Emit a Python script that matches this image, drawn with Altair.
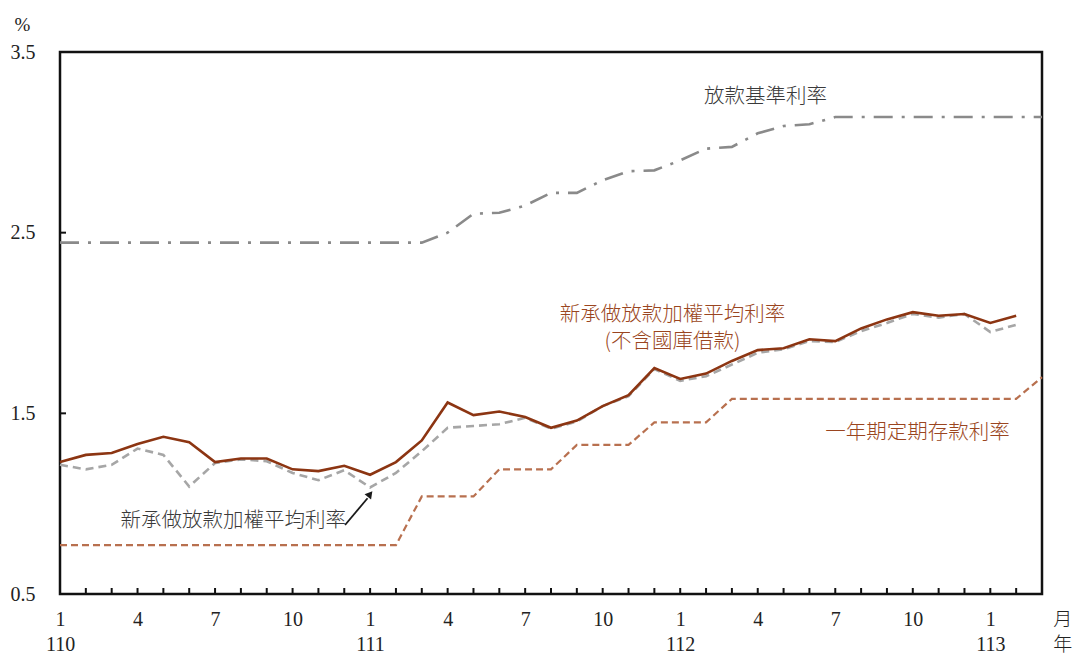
import altair as alt
import pandas as pd

# 新承做放款加權平均利率(不含國庫借款), monthly from 110/1 to 113/2
red_rate = [1.23, 1.27, 1.28, 1.33, 1.37, 1.34, 1.23, 1.25, 1.25, 1.19, 1.18, 1.21,
            1.16, 1.23, 1.35, 1.56, 1.49, 1.51, 1.48, 1.42, 1.46, 1.54, 1.60, 1.75,
            1.69, 1.72, 1.79, 1.85, 1.86, 1.91, 1.90, 1.97, 2.02, 2.06, 2.04, 2.05,
            2.00, 2.04]
# 新承做放款加權平均利率
grey_rate = [1.215, 1.19, 1.215, 1.305, 1.27, 1.095, 1.225, 1.245, 1.235, 1.17, 1.13, 1.185,
             1.09, 1.17, 1.29, 1.42, 1.43, 1.44, 1.475, 1.415, 1.455, 1.54, 1.595, 1.745,
             1.68, 1.705, 1.77, 1.835, 1.855, 1.90, 1.895, 1.955, 2.00, 2.05, 2.03, 2.05,
             1.95, 1.99]
# 放款基準利率, 110/1 to 113/3
base_rate = [2.445, 2.445, 2.445, 2.445, 2.445, 2.445, 2.445, 2.445, 2.445, 2.445, 2.445, 2.445,
             2.445, 2.445, 2.445, 2.50, 2.605, 2.61, 2.65, 2.72, 2.72, 2.79, 2.84, 2.845,
             2.90, 2.965, 2.975, 3.05, 3.09, 3.10, 3.14, 3.14, 3.14, 3.14, 3.14, 3.14,
             3.14, 3.14, 3.14]
# 一年期定期存款利率, 110/1 to 113/3
deposit_rate = [0.77, 0.77, 0.77, 0.77, 0.77, 0.77, 0.77, 0.77, 0.77, 0.77, 0.77, 0.77,
                0.77, 0.77, 1.04, 1.04, 1.04, 1.19, 1.19, 1.19, 1.325, 1.325, 1.325, 1.45,
                1.45, 1.45, 1.58, 1.58, 1.58, 1.58, 1.58, 1.58, 1.58, 1.58, 1.58, 1.58,
                1.58, 1.58, 1.70]

first_year = 110
y_tick_labels = [0.5, 1.5, 2.5, 3.5]
inner_y_ticks = [1.5, 2.5]
month_ticks = list(range(1, 38))


def frame(vals):
    return pd.DataFrame({"idx": list(range(len(vals))), "rate": vals})


SERIF = "Liberation Serif"
CJK = "Noto Sans CJK TC"
BROWN_TEXT = "#9A4520"
DARK_TEXT = "#3a3a3a"

x_scale = alt.Scale(domain=[0, 38], nice=False, zero=False)
y_scale = alt.Scale(domain=[0.5, 3.5], nice=False, zero=False)

label_expr = (
    f"datum.value % 12 == 0 ? ['' + (datum.value % 12 + 1), '' + ({first_year} + floor(datum.value / 12))]"
    " : (datum.value % 3 == 0 ? '' + (datum.value % 12 + 1) : '')"
)

X = alt.X("idx:Q", scale=x_scale, title=None,
          axis=alt.Axis(values=list(range(0, 38, 3)), labelExpr=label_expr,
                        ticks=False, domain=False, grid=False,
                        labelFont=SERIF, labelFontSize=20, labelColor="#222",
                        labelPadding=15, labelLineHeight=25, labelAngle=0,
                        labelFlush=False, labelOverlap=False, labelBound=False))
Y = alt.Y("rate:Q", scale=y_scale,
          axis=alt.Axis(values=y_tick_labels, format=".1f", ticks=False, domain=False,
                        grid=False, labelFont=SERIF, labelFontSize=20, labelColor="#222",
                        labelPadding=25, labelFlush=False,
                        title="%", titleAngle=0, titleX=-38, titleY=-28,
                        titleFont=SERIF, titleFontSize=19, titleFontWeight="normal",
                        titleAlign="center", titleBaseline="middle", titleColor="#222"))

base_line = alt.Chart(frame(base_rate)).mark_line(
    color="#8a8a8a", strokeWidth=2.6, strokeDash=[19, 9, 3, 9]
).encode(x=X, y=Y)

deposit_line = alt.Chart(frame(deposit_rate)).mark_line(
    color="#b8704f", strokeWidth=2.2, strokeDash=[7, 4]
).encode(x=X, y=Y)

grey_line = alt.Chart(frame(grey_rate)).mark_line(
    color="#a6a6a6", strokeWidth=2.6, strokeDash=[8, 5]
).encode(x=X, y=Y)

red_line = alt.Chart(frame(red_rate)).mark_line(
    color="#8c3512", strokeWidth=2.6
).encode(x=X, y=Y)

x_ticks = alt.Chart(pd.DataFrame({"idx": month_ticks})).mark_rule(
    color="#111", strokeWidth=2
).encode(x=X, y=alt.value(542), y2=alt.value(536))

y_ticks = alt.Chart(pd.DataFrame({"rate": inner_y_ticks})).mark_rule(
    color="#111", strokeWidth=2
).encode(y=Y, x=alt.value(0), x2=alt.value(6))

brown_notes = alt.Chart(pd.DataFrame({
    "idx": [23.7, 23.7, 33.18],
    "rate": [2.045, 1.893, 1.392],
    "text": ["新承做放款加權平均利率", "(不含國庫借款)", "一年期定期存款利率"],
})).mark_text(font=CJK, fontSize=20.5, fontWeight=300, color=BROWN_TEXT,
              align="center", baseline="middle").encode(x=X, y=Y, text="text:N")

dark_notes = alt.Chart(pd.DataFrame({
    "idx": [27.3, 6.7],
    "rate": [3.253, 0.904],
    "text": ["放款基準利率", "新承做放款加權平均利率"],
})).mark_text(font=CJK, fontSize=20.5, fontWeight=300, color=DARK_TEXT,
              align="center", baseline="middle").encode(x=X, y=Y, text="text:N")

unit_notes = alt.Chart(pd.DataFrame({
    "idx": [38.8, 38.8],
    "rate": [0.355, 0.218],
    "text": ["月", "年"],
})).mark_text(font=CJK, fontSize=19, fontWeight=300, color="#222",
              align="center", baseline="middle").encode(x=X, y=Y, text="text:N")

arrow_shaft = alt.Chart(pd.DataFrame({
    "idx": [11.03], "rate": [0.882], "idx2": [11.9], "rate2": [1.03],
})).mark_rule(color="#1a1a1a", strokeWidth=1.8).encode(
    x=X, y=Y, x2="idx2:Q", y2="rate2:Q")

arrow_head = alt.Chart(pd.DataFrame({"idx": [11.97], "rate": [1.048]})).mark_point(
    shape="triangle", filled=True, color="#1a1a1a", size=70, angle=39, opacity=1
).encode(x=X, y=Y)

chart = alt.layer(
    base_line, deposit_line, grey_line, red_line,
    x_ticks, y_ticks, brown_notes, dark_notes, unit_notes, arrow_shaft, arrow_head,
).properties(
    width=982, height=542,
    padding={"left": 60, "top": 52, "right": 31, "bottom": 64},
    autosize=alt.AutoSizeParams(type="none"),
    background="white",
).configure_view(stroke="#111", strokeWidth=2.5)

chart.save("out.html", embed_options={"renderer": "svg", "actions": False})
